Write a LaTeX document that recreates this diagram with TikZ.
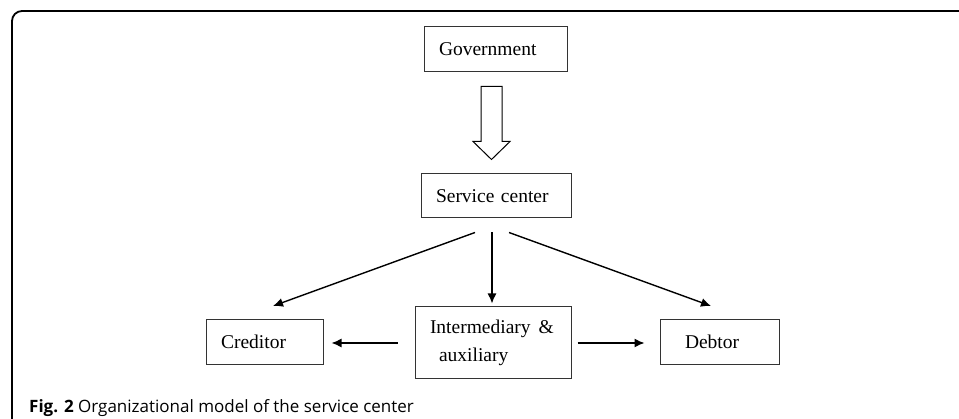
\documentclass[tikz,border=0pt]{standalone}
\usepackage{fontspec}
\setmainfont{Liberation Serif}
\newfontfamily\capfont{Open Sans}
\usetikzlibrary{arrows.meta}

\begin{document}
\begin{tikzpicture}[x=1pt,y=-1pt,
    box/.style={draw=black!80,line width=1pt,inner xsep=15pt,inner ysep=0pt,align=left,
      font=\fontsize{19.5}{21.5}\selectfont},
    arr/.style={line width=1.4pt,-{Latex[length=10pt,width=9pt]}}]
  \useasboundingbox (0,0) rectangle (959,419);
  \draw[line width=1.8pt,rounded corners=10pt] (12,420)--(12,11)--(960,11);
  \node[box,text width=113pt,minimum height=45pt] (gov) at (495.5,49.5) {Government};
  \node[box,text width=120pt,minimum height=44pt] (sc) at (496,196) {Service center};
  \node[box,text width=87pt,minimum height=45pt] (cred) at (264.5,342) {Creditor};
  \node[box,text width=126pt,minimum height=72pt,font=\fontsize{19.5}{28}\selectfont] (inter) at (493,343)
    {\mbox{Intermediary\hspace{8pt}\&}\\\hspace*{9pt}auxiliary};
  \node[box,text width=89pt,minimum height=45pt] (deb) at (719.5,342) {\hspace*{10pt}Debtor};
  % hollow arrow
  \draw[line width=1pt,line join=miter] ([xshift=-14.5pt,yshift=-14pt]gov.south) -- ++(0,55) -- ++(-8,0)
    -- ++(18.5,18) -- ++(18.5,-18) -- ++(-8,0) -- ++(0,-55) -- cycle;
  \draw[arr] ([xshift=-21pt,yshift=-14pt]sc.south) -- ([xshift=8.5pt,yshift=13pt]cred.north);
  \draw[arr] ([xshift=-4pt,yshift=-14pt]sc.south) -- ([xshift=-1pt,yshift=3pt]inter.north);
  \draw[arr] ([xshift=13pt,yshift=-14pt]sc.south) -- ([xshift=-8.5pt,yshift=13pt]deb.north);
  \draw[arr] ([xshift=-17pt]inter.west) -- ([xshift=8pt]inter.west -| cred.east);
  \draw[arr] ([xshift=6pt]inter.east) -- ([xshift=-15pt]inter.east -| deb.west);
  \node[anchor=base west,inner sep=0pt,font=\capfont\fontsize{17}{20}\selectfont] (cap) at (29,413)
    {\textbf{Fig. 2} Organizational model of the service center};
\end{tikzpicture}
\end{document}
